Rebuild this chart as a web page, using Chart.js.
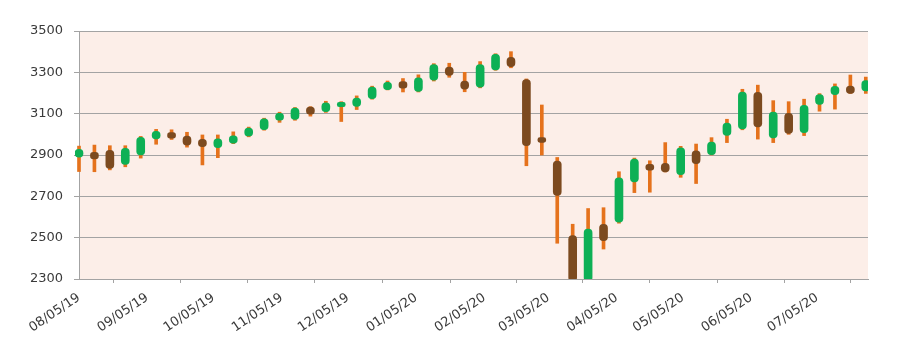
<!DOCTYPE html>
<html>
<head>
<meta charset="utf-8">
<script src="https://cdn.jsdelivr.net/npm/chart.js@4.4.1/dist/chart.umd.min.js"></script>
<style>
  html, body { margin: 0; padding: 0; background: #ffffff; }
  #wrap { width: 900px; height: 358px; position: relative; }
</style>
</head>
<body>
<div id="wrap"><canvas id="c"></canvas></div>
<script>
// Weekly candles (week start dates)
const weekStarts = [
  "2019-08-05","2019-08-12","2019-08-19","2019-08-26","2019-09-02","2019-09-09","2019-09-16","2019-09-23","2019-09-30",
  "2019-10-07","2019-10-14","2019-10-21","2019-10-28","2019-11-04","2019-11-11","2019-11-18","2019-11-25",
  "2019-12-02","2019-12-09","2019-12-16","2019-12-23","2019-12-30",
  "2020-01-06","2020-01-13","2020-01-20","2020-01-27","2020-02-03","2020-02-10","2020-02-17","2020-02-24",
  "2020-03-02","2020-03-09","2020-03-16","2020-03-23","2020-03-30","2020-04-06","2020-04-13","2020-04-20","2020-04-27",
  "2020-05-04","2020-05-11","2020-05-18","2020-05-25","2020-06-01","2020-06-08","2020-06-15","2020-06-22","2020-06-29",
  "2020-07-06","2020-07-13","2020-07-20","2020-07-27"
];
const opens  = [2889,2913,2922,2855,2900,2978,3008,2992,2976,2935,2957,2992,3022,3068,3072,3132,3110,3134,3135,3173,3216,3255,3208,3262,3325,3258,3228,3312,3372,3265,2984,2870,2510,2290,2565,2575,2770,2855,2860,2805,2920,2902,2995,3026,3203,2983,3102,3008,3145,3192,3234,3210];
const highs  = [2943,2948,2945,2945,2990,3024,3022,3010,2997,2997,3012,3035,3078,3107,3130,3134,3160,3158,3186,3233,3258,3270,3288,3342,3344,3300,3352,3390,3400,3268,3142,2888,2565,2641,2645,2819,2885,2872,2960,2942,2953,2984,3073,3218,3238,3163,3158,3170,3197,3244,3287,3277];
const lows   = [2820,2819,2828,2843,2885,2952,2975,2938,2852,2887,2955,2988,3020,3058,3068,3088,3106,3062,3120,3170,3215,3205,3205,3258,3276,3206,3225,3310,3322,2848,2900,2473,2280,2191,2445,2570,2718,2720,2818,2792,2762,2900,2960,3022,2977,2960,3000,2994,3112,3122,3198,3198];
const closes = [2928,2881,2835,2932,2985,3015,2981,2948,2940,2978,2993,3030,3075,3102,3127,3098,3153,3155,3175,3229,3252,3223,3274,3338,3285,3218,3338,3387,3327,2945,2961,2705,2290,2541,2485,2790,2880,2827,2818,2935,2858,2962,3055,3205,3036,3108,3005,3140,3192,3232,3198,3260];

// Axis tick labels
const tickLabels = ["08/05/19","09/05/19","10/05/19","11/05/19","12/05/19","01/05/20","02/05/20","03/05/20","04/05/20","05/05/20","06/05/20","07/05/20"];
const yMin = 2300, yMax = 3500, yStep = 200;

const DAY = 86400000;
const origin = Date.UTC(2019, 7, 5);
function dayOfIso(s) { const [y, m, d] = s.split('-').map(Number); return (Date.UTC(y, m - 1, d) - origin) / DAY; }
function dayOfLabel(s) { const [m, d, y] = s.split('/').map(Number); return (Date.UTC(2000 + y, m - 1, d) - origin) / DAY; }
const xs = weekStarts.map(dayOfIso);
const tickDays = tickLabels.map(dayOfLabel);

const GREEN = '#0DB055', BROWN = '#7C4A1F', ORANGE = '#E5721C';
const TEXT = '#3a3a3a', GRID = '#A3A3A3';
const up = opens.map((o, i) => closes[i] >= o);
const clipArea = { left: 4, top: 0, right: 0, bottom: 0 };

const bgPlugin = {
  id: 'bg',
  beforeDraw(chart) {
    const { ctx, chartArea: a } = chart;
    ctx.save();
    ctx.fillStyle = '#FCEEE8';
    ctx.fillRect(a.left, a.top, a.right - a.left, a.bottom - a.top);
    ctx.restore();
  }
};

new Chart(document.getElementById('c'), {
  type: 'bar',
  data: {
    datasets: [
      {
        label: 'range',
        data: xs.map((x, i) => ({ x: x, y: [lows[i], highs[i]] })),
        backgroundColor: ORANGE,
        barThickness: 3,
        grouped: false,
        order: 2,
        clip: clipArea,
        borderSkipped: false
      },
      {
        label: 'body',
        data: xs.map((x, i) => ({ x: x, y: [opens[i], closes[i]] })),
        backgroundColor: up.map(u => u ? GREEN : BROWN),
        barThickness: 8,
        grouped: false,
        order: 1,
        clip: clipArea,
        borderRadius: 4,
        borderSkipped: false
      }
    ]
  },
  options: {
    responsive: true,
    maintainAspectRatio: false,
    animation: false,
    layout: { padding: { left: 0, right: 32, top: 31, bottom: 0 } },
    plugins: { legend: { display: false }, tooltip: { enabled: false } },
    scales: {
      x: {
        type: 'linear',
        min: 0,
        max: 358,
        offset: false,
        afterBuildTicks: (s) => { s.ticks = tickDays.map(v => ({ value: v })); },
        afterFit: (s) => { s.height = 79; },
        ticks: {
          autoSkip: false,
          minRotation: 34,
          maxRotation: 34,
          padding: 7,
          color: TEXT,
          font: { family: 'DejaVu Sans', size: 13 },
          callback: (v) => { const i = tickDays.indexOf(v); return i >= 0 ? tickLabels[i] : ''; }
        },
        grid: { display: true, drawOnChartArea: false, drawTicks: true, tickLength: 4, color: GRID },
        border: { display: true, color: GRID, width: 1 }
      },
      y: {
        min: yMin,
        max: yMax,
        afterFit: (s) => { s.width = 79; },
        ticks: {
          stepSize: yStep,
          padding: 11,
          color: TEXT,
          font: { family: 'DejaVu Sans', size: 13 },
          callback: (v) => String(v)
        },
        grid: { color: GRID, lineWidth: 1, tickLength: 5 },
        border: { display: true, color: GRID, width: 1 }
      }
    }
  },
  plugins: [bgPlugin]
});
</script>
</body>
</html>
